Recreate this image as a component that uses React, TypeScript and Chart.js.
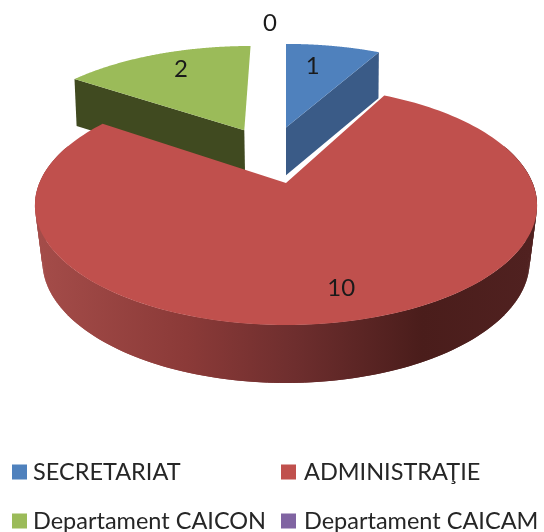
import React, { useEffect, useRef } from "react";
import { Chart, registerables } from "chart.js";

Chart.register(...registerables);

const categories = ["SECRETARIAT", "ADMINISTRAŢIE", "Departament CAICON", "Departament CAICAM"];
const values = [1, 10, 2, 0];
const topColors = ["#4f81bd", "#c0504d", "#9bbb59", "#8064a2"];
const sideColors = ["#3a5b87", "#8a3a38", "#404a20", "#5b4775"];

// Exploded offsets of each slice on the unit disc, and label placement along the bisector
const explodeX = [0, 0, -0.185, -0.088];
const explodeY = [-0.53, 0, -0.5, -0.875];
const radiusScale = [1.03, 1, 1.03, 1];
const labelFrac = [0.75, 0.8, 0.78, 1];
const labelNudgeX = [-10, 0, 7, 0];
const labelNudgeY = [2, 0, 0, 0];

// Perspective projection of the pie's disc
const CX = 286;
const CY = 183;
const MX = 246.6;
const KY = 115.3;
const P = 0.188;

const project = (X: number, Y: number) => {
  const w = 1 - P * Y;
  return [CX + (MX * X) / w, CY + (KY * Y) / w];
};
const depthAt = (Y: number) => (Y >= 0 ? 58 : Y > -0.5 ? 58 + 20 * Y : 49 + 2 * Y);
const projectBottom = (X: number, Y: number) => {
  const [x, y] = project(X, Y);
  const s = 0.973 - 0.0157 * Y;
  return [CX + (x - CX) * s, y + depthAt(Y)];
};

const pointOn = (i: number, a: number, r: number) => {
  const rr = r * radiusScale[i];
  return [explodeX[i] + rr * Math.cos(a), explodeY[i] + rr * Math.sin(a)];
};

const trace = (ctx: CanvasRenderingContext2D, pts: number[][]) => {
  ctx.beginPath();
  pts.forEach((p, k) => (k ? ctx.lineTo(p[0], p[1]) : ctx.moveTo(p[0], p[1])));
  ctx.closePath();
};

const pie3d = {
  id: "pie3d",
  beforeDatasetsDraw(chart: any) {
    const ctx: CanvasRenderingContext2D = chart.ctx;
    const arcs = chart.getDatasetMeta(0).data;
    const angles = arcs.map((el: any) => {
      const { startAngle, endAngle } = el.getProps(["startAngle", "endAngle"], true);
      return [startAngle, endAngle];
    });
    const N = 180;
    const sample = (i: number, from: number, to: number, n = N) => {
      const out: number[][] = [];
      for (let k = 0; k <= n; k++) out.push(pointOn(i, from + ((to - from) * k) / n, 1));
      return out;
    };
    const top = (i: number) => {
      const [s, e] = angles[i];
      const apex = [explodeX[i], explodeY[i]];
      return [apex, ...sample(i, s, e)].map(([X, Y]) => project(X, Y));
    };
    const cutSide = (i: number, a: number) => {
      const apex = [explodeX[i], explodeY[i]];
      const rim = pointOn(i, a, 1);
      return [
        project(apex[0], apex[1]),
        project(rim[0], rim[1]),
        projectBottom(rim[0], rim[1]),
        projectBottom(apex[0], apex[1]),
      ];
    };

    // Back slices: green, then blue, cut faces first
    ctx.fillStyle = sideColors[2];
    trace(ctx, cutSide(2, angles[2][0]));
    ctx.fill();
    ctx.fillStyle = topColors[2];
    trace(ctx, top(2));
    ctx.fill();

    ctx.fillStyle = sideColors[0];
    trace(ctx, cutSide(0, angles[0][1]));
    ctx.fill();
    ctx.fillStyle = topColors[0];
    trace(ctx, top(0));
    ctx.fill();

    // Red slice: outer wall with a horizontal gradient, then its top
    const wallFrom = (-20 * Math.PI) / 180;
    const wallTo = (200 * Math.PI) / 180;
    const rim = sample(1, wallFrom, wallTo);
    const g = ctx.createLinearGradient(40, 0, 530, 0);
    g.addColorStop(0, "#a44c49");
    g.addColorStop(0.3, "#8b3a38");
    g.addColorStop(0.52, "#6e2e2e");
    g.addColorStop(0.78, "#4a1d1b");
    g.addColorStop(1, "#502120");
    ctx.fillStyle = g;
    for (let k = 0; k + 2 < rim.length; k++) {
      const a = rim[k];
      const b = rim[k + 2];
      trace(ctx, [project(a[0], a[1]), project(b[0], b[1]), projectBottom(b[0], b[1]), projectBottom(a[0], a[1])]);
      ctx.fill();
    }
    ctx.fillStyle = topColors[1];
    trace(ctx, top(1));
    ctx.fill();

    // Value labels
    ctx.fillStyle = "#1a1a1a";
    ctx.font = '24px Lato, "Open Sans", sans-serif';
    ctx.textAlign = "center";
    ctx.textBaseline = "middle";
    values.forEach((v, i) => {
      const [s, e] = angles[i];
      const [X, Y] = pointOn(i, (s + e) / 2, labelFrac[i]);
      const [x, y] = project(X, Y);
      ctx.fillText(String(v), x + labelNudgeX[i], y + labelNudgeY[i]);
    });

    // Two-column legend
    const colX = [12, 281];
    const textX = [33, 304];
    const rowY = [472, 521];
    ctx.font = '23.5px Lato, "Open Sans", sans-serif';
    ctx.textAlign = "left";
    categories.forEach((label, i) => {
      const x = colX[i % 2];
      const y = rowY[Math.floor(i / 2)];
      ctx.fillStyle = topColors[i];
      ctx.fillRect(x, y - 7.5, 15, 15);
      ctx.fillStyle = "#262626";
      ctx.fillText(label, textX[i % 2], y);
    });
    return false;
  },
};

export default function App() {
  const ref = useRef<HTMLCanvasElement>(null);
  useEffect(() => {
    const chart = new Chart(ref.current!, {
      type: "pie",
      data: {
        labels: categories,
        datasets: [{ data: values, backgroundColor: topColors, borderWidth: 0 }],
      },
      options: {
        animation: false,
        responsive: false,
        plugins: { legend: { display: false }, tooltip: { enabled: false } },
      },
      plugins: [pie3d],
    } as any);
    return () => chart.destroy();
  }, []);
  return (
    <div style={{ position: "fixed", left: 0, top: 0, width: 544, height: 532, background: "#fff" }}>
      <canvas ref={ref} width={544} height={532} style={{ display: "block" }} />
    </div>
  );
}
